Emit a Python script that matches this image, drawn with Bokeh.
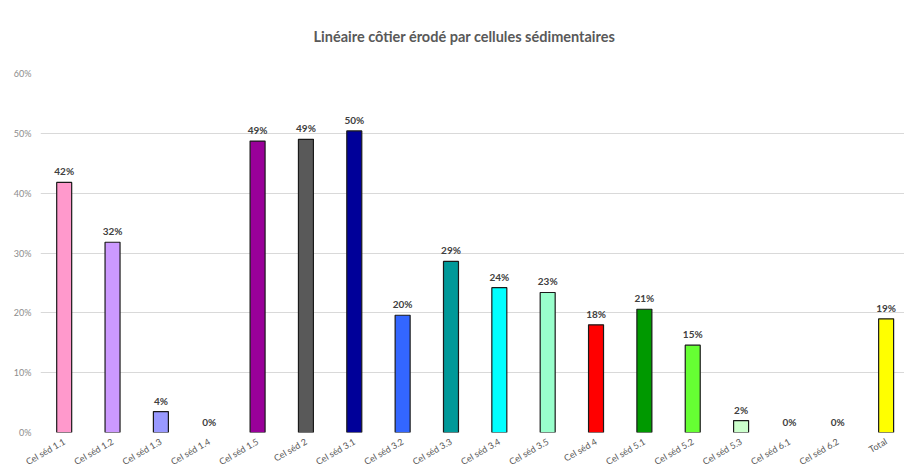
import math
from bokeh.plotting import figure
from bokeh.models import ColumnDataSource, LabelSet, Range1d, FixedTicker, NumeralTickFormatter
from bokeh.core.properties import value
from bokeh.embed import file_html
from bokeh.resources import INLINE

categories = ["Cel séd 1.1", "Cel séd 1.2", "Cel séd 1.3", "Cel séd 1.4", "Cel séd 1.5",
              "Cel séd 2", "Cel séd 3.1", "Cel séd 3.2", "Cel séd 3.3", "Cel séd 3.4",
              "Cel séd 3.5", "Cel séd 4", "Cel séd 5.1", "Cel séd 5.2", "Cel séd 5.3",
              "Cel séd 6.1", "Cel séd 6.2", "Total"]
values = [0.418, 0.318, 0.035, 0.0, 0.487, 0.490, 0.504, 0.196, 0.286, 0.242,
          0.234, 0.180, 0.206, 0.146, 0.020, 0.0, 0.0, 0.190]
colors = ["#FF99CC", "#CC99FF", "#9999FF", "#FFFFFF", "#990099", "#595959", "#000099",
          "#3366FF", "#009999", "#00FFFF", "#99FFCC", "#FF0000", "#009900", "#66FF33",
          "#CCFFCC", "#FFFFFF", "#FFFFFF", "#FFFF00"]
y_ticks = [0.0, 0.1, 0.2, 0.3, 0.4, 0.5, 0.6]

xs = list(range(len(categories)))
src = ColumnDataSource(dict(
    x=xs, v=values, c=colors,
    lab=[f"{round(v * 100)}%" for v in values],
    lc=["#1a1a1a" if v > 0 else None for v in values],
))

FONT = "Lato"

p = figure(width=904, height=474, output_backend="svg", toolbar_location=None,
           x_range=Range1d(-0.49, 17.38), y_range=Range1d(0, 0.6),
           min_border_left=40, min_border_right=0, min_border_top=72, min_border_bottom=42,
           title="Linéaire côtier érodé par cellules sédimentaires")
p.outline_line_color = None
p.background_fill_color = "white"
p.border_fill_color = "white"

p.title.align = "left"
p.title.vertical_align = "top"
p.title.text_font = FONT
p.title.text_font_style = "bold"
p.title.text_font_size = "14.5px"
p.title.text_color = "#595959"
p.title.offset = 273
p.title.standoff = 54

p.vbar(x="x", top="v", width=0.31, fill_color="c", line_color="lc", line_width=1.2, source=src)

p.xaxis.ticker = FixedTicker(ticks=xs)
p.xaxis.major_label_overrides = {i: c for i, c in zip(xs, categories)}
p.xaxis.major_label_orientation = math.pi / 6
p.xaxis.axis_line_color = None
p.xaxis.major_tick_line_color = None
p.xaxis.minor_tick_line_color = None
p.xaxis.major_tick_in = 0
p.xaxis.major_tick_out = 0
p.xaxis.major_label_standoff = 8
p.xaxis.major_label_text_font = FONT
p.xaxis.major_label_text_font_size = "9px"
p.xaxis.major_label_text_color = "#595959"
p.xgrid.visible = False

p.yaxis.ticker = FixedTicker(ticks=y_ticks)
p.yaxis.formatter = NumeralTickFormatter(format="0%")
p.yaxis.axis_line_color = None
p.yaxis.major_tick_line_color = None
p.yaxis.minor_tick_line_color = None
p.yaxis.major_tick_in = 0
p.yaxis.major_tick_out = 0
p.yaxis.major_label_text_font = FONT
p.yaxis.major_label_text_font_size = "9px"
p.yaxis.major_label_text_color = "#8c8c8c"
p.yaxis.major_label_standoff = 9
p.ygrid.ticker = FixedTicker(ticks=y_ticks)
p.ygrid.grid_line_color = "#d9d9d9"
p.ygrid.grid_line_width = 1

vlabels = LabelSet(x="x", y="v", text="lab", source=src, text_align="center",
                   text_baseline="bottom", y_offset=5, text_font=value(FONT),
                   text_font_style="bold", text_font_size="10px", text_color="#404040")
p.add_layout(vlabels)

open("out.html", "w").write(file_html(p, INLINE))
